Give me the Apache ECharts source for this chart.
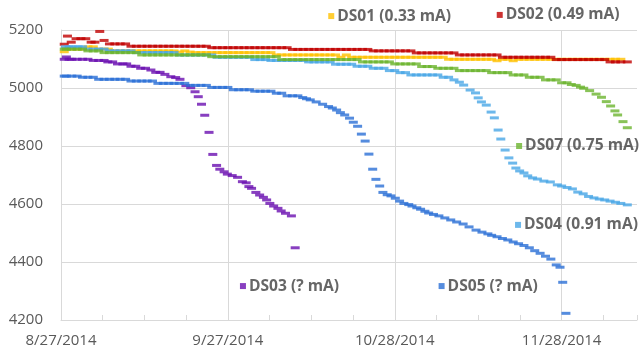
<!DOCTYPE html>
<html><head><meta charset="utf-8">
<script src="https://cdn.jsdelivr.net/npm/echarts@6/dist/echarts.min.js"></script>
<style>html,body{margin:0;padding:0;background:#fff}#c{width:640px;height:360px}</style>
</head><body><div id="c"></div>
<script>
// x values are days since 8/27/2014
const xTickLabels = ['8/27/2014','9/27/2014','10/28/2014','11/28/2014'];
const xTickStep = 31;
const xMax = 107;
const yMin = 4200, yMax = 5200, yStep = 200;

const seriesNames = ['DS01','DS02','DS03','DS04','DS05','DS07'];
const seriesColors = ['#FFC000','#C00000','#6A0FB0','#48A6E6','#2A6FD6','#6CB42E'];

const ds01 = [[0.6,5125],[1,5134],[2,5134],[3,5134],[4,5134],[5,5142],[6,5142],[7,5134],[8,5134],[8.8,5134],
[9,5128],[10,5128],[11,5128],[12,5128],[13,5128],[14,5128],[15,5128],[16,5128],[17,5128],[18,5128],[19,5128],[20,5128],[21,5128],[22,5124],[23,5128],[24,5124],
[25,5122],[26,5122],[27,5122],[28,5122],[29,5122],[30,5122],[31,5122],[32,5122],[33,5122],[34,5122],[35,5122],[36,5122],[37,5122],[38,5122],[39,5122],
[40,5114],[41,5114],[42,5114],[43,5114],[44,5114],[45,5114],[46,5114],[47,5114],[48,5114],[49,5114],[50,5114],[51,5114],[52,5106],[53,5114],[54,5106],
[55,5106],[56,5106],[57,5106],[58,5106],[59,5106],[60,5106],[61,5106],[62,5106],[63,5106],[64,5106],[65,5106],[66,5106],[67,5106],[68,5106],[69,5106],[70,5106],[71,5106],
[72,5099],[73,5099],[74,5099],[75,5099],[76,5099],[77,5099],[78,5099],[79,5099],[80,5099],[81,5094],[82,5099],[83,5099],[84,5094],[85,5099],[86,5099],[87,5099],[88,5099],[89,5099],[90,5099],[91,5099],[92,5099],[93,5099],[94,5099],[95,5099],[96,5099],[97,5099],[98,5099],[99,5099],[100,5099],[101,5099],[102,5099],[103,5099],[104,5099]];

const ds02 = [[0.6,5151],[1.2,5179],[1.9,5158],[2.8,5170],[3.7,5170],[4.6,5170],[5.6,5158],[6.3,5158],[7.2,5195],[8,5164],[9,5152],[10,5152],[11,5152],[12,5152],
[13,5144],[14,5144],[15,5144],[16,5144],[17,5144],[18,5144],[19,5144],[20,5144],[21,5144],[22,5144],[23,5144],[24,5144],[25,5144],[26,5144],[27,5144],
[28,5139],[29,5139],[30,5139],[31,5139],[32,5139],[33,5139],[34,5139],[35,5139],[36,5139],[37,5139],[38,5139],[39,5139],[40,5139],[41,5139],[42,5139],
[43,5133],[44,5133],[45,5133],[46,5133],[47,5133],[48,5133],[49,5133],[50,5133],[51,5133],[52,5133],[53,5133],[54,5133],[55,5133],[56,5133],[57,5133],
[58,5128],[59,5128],[60,5128],[61,5128],[62,5128],[63,5128],[64,5128],[65,5128],
[66,5121],[67,5121],[68,5121],[69,5121],[70,5121],[71,5121],[72,5121],[73,5121],
[74,5114],[75,5114],[76,5114],[77,5114],[78,5114],[79,5114],[80,5114],[81,5114],
[82,5106],[83,5106],[84,5106],[85,5106],[86,5106],[87,5106],[88,5106],[89,5106],[90,5106],[91,5106],
[92,5098],[93,5098],[94,5098],[95,5098],[96,5098],[97,5098],[98,5098],[99,5098],[100,5098],[101,5098],
[102,5090],[103,5090],[104,5090],[105.2,5090]];

const ds03 = [[0.6,5099],[1,5107],[1.5,5099],[2,5099],[3,5099],[4,5099],[5,5099],[6,5095],[7,5095],[8,5095],[8.7,5090],[9.6,5090],[10.5,5083],[11.5,5083],[12.2,5083],[13,5075],[13.9,5075],[14.8,5068],[15.7,5068],[16.7,5062],[17.6,5054],[18.4,5054],[19.3,5047],[20.4,5039],[21.3,5036],[22.1,5030],[23.2,5008],[24.1,5001],[24.9,4987],[25.5,4970],[26.1,4944],[26.7,4906],[27.5,4847],[28.2,4771],[28.9,4733],[29.5,4720],[30.3,4711],[30.9,4703],[31.8,4698],[32.8,4692],[33.7,4677],[34.4,4673],[34.9,4660],[35.4,4654],[36.2,4640],[36.9,4631],[37.6,4623],[38.2,4614],[38.8,4602],[39.5,4593],[40.3,4585],[40.9,4576],[41.7,4568],[42.8,4559],[43.5,4449]];

const ds04 = [[0.8,5142],[1.5,5142],[2.3,5142],[3.2,5142],[4,5142],[5,5134],[6,5134],[7,5134],[8,5134],[9,5128],[10,5128],[11,5128],[12,5128],[13,5128],
[14,5122],[15,5122],[16,5122],[17,5122],[18,5122],[19,5122],[20,5122],[21,5122],
[22,5114],[23,5114],[24,5114],[25,5114],[26,5114],[27,5114],[28,5114],
[29,5106],[30,5106],[31,5106],[32,5106],[33,5106],[34,5106],[35,5106],
[36,5098],[37,5098],[38,5098],[39,5095],[40,5095],[41,5095],[42,5095],[43,5095],[44,5095],[45,5095],
[46,5090],[47,5090],[48,5090],[49,5090],[50,5090],[51,5082],[52,5082],[53,5082],[54,5082],[55,5075],[56,5075],[57,5075],[58,5068],[59,5068],[60,5068],[61,5060],[62,5060],[63,5053],[64,5053],
[65,5045],[66,5045],[67,5045],[68,5045],[69,5045],[70,5045],[71,5037],[72,5037],[73,5028],[74,5020],[74.8,5010],[76,4993],[77,4983],[77.5,4966],[78.1,4952],[79,4941],[79.9,4917],[80.5,4897],[81.2,4855],[81.7,4824],[82.5,4786],[83.2,4759],[83.9,4741],[84.5,4724],[85.2,4714],[86,4707],[86.7,4697],[87.6,4690],[88.5,4686],[89.7,4679],[90.9,4676],[92.2,4666],[93,4662],[94,4657],[95,4652],[96,4641],[97,4635],[98,4626],[99,4621],[100,4617],[101,4614],[102,4610],[103,4606],[104,4602],[105.2,4597]];

const ds05 = [[0.6,5041],[1,5041],[2,5041],[3,5041],[4,5037],[5,5037],[6,5037],[7,5030],[8,5030],[9,5030],[10,5030],[11,5030],[12,5030],[13,5024],[14,5024],[15,5024],[16,5024],[17,5024],[18,5016],[19,5016],[20,5016],[21,5016],[22,5016],[23,5016],[24,5009],[25,5009],[26,5009],[27,5009],[28,5002],[29,5002],[30,5002],[31,5002],[32,4994],[33,4994],[34,4994],[35,4994],[36,4989],[37,4989],[38,4989],[39,4989],[40,4982],[41,4982],[42,4973],[43,4973],[44,4973],[44.9,4967],[45.6,4963],[46.3,4959],[47.4,4952],[48.6,4944],[49.7,4936],[50.4,4931],[51.2,4924],[51.9,4915],[52.7,4907],[53.6,4896],[54.3,4882],[55.1,4868],[55.8,4841],[56.5,4817],[57.2,4772],[57.9,4720],[58.5,4685],[59.2,4662],[59.8,4640],[60.6,4632],[61.3,4628],[62.1,4620],[62.9,4610],[63.7,4602],[64.6,4598],[65.2,4593],[66.1,4587],[66.8,4582],[67.6,4575],[68.3,4569],[69.2,4564],[70.2,4559],[71.3,4552],[72.4,4545],[73.5,4538],[74.7,4531],[75.8,4521],[77.1,4510],[78.2,4503],[79.3,4497],[80,4492],[81,4487],[82,4481],[83,4476],[84,4469],[85,4463],[86,4457],[87,4449],[88,4439],[89,4430],[90,4420],[91,4410],[92,4390],[92.7,4382],[93.2,4330],[93.8,4223]];

const ds07 = [[0.6,5134],[1,5134],[2,5134],[3,5134],[4,5134],[5,5128],[6,5128],[7,5128],
[8,5122],[9,5122],[10,5122],[11,5122],[12,5122],[13,5122],[14,5122],
[15,5114],[16,5114],[17,5114],[18,5114],[19,5114],[20,5114],[21,5114],[22,5114],[23,5114],[24,5114],[25,5114],[26,5114],[27,5114],
[28,5108],[29,5108],[30,5108],[31,5108],[32,5108],[33,5108],[34,5108],[35,5108],[36,5108],[37,5108],[38,5108],[39,5108],[40,5108],
[41,5098],[42,5098],[43,5098],[44,5098],[45,5098],[46,5098],[47,5098],[48,5098],[49,5098],[50,5098],[51,5098],[52,5098],[53,5098],[54,5098],[55,5098],
[56,5090],[57,5090],[58,5090],[59,5090],[60,5090],[61,5090],[62,5083],[63,5083],[64,5083],[65,5083],[66,5083],
[67,5074],[68,5074],[69,5074],[70,5068],[71,5068],[72,5068],[73,5068],[74,5060],[75,5060],[76,5060],[77,5060],[78,5060],[79,5060],
[80,5053],[81,5053],[82,5053],[83,5053],[84,5045],[85,5045],[86,5045],[87,5037],[88,5037],[89,5037],[90,5028],[91,5028],[92,5028],[93,5018],[94,5018],
[94.8,5012],[95.7,5009],[96.5,5003],[97.1,4999],[98.2,4991],[99.4,4979],[100.4,4968],[101.3,4953],[102.1,4938],[102.9,4921],[103.4,4907],[104.4,4884],[105.2,4863]];

const seriesData = [ds01, ds02, ds03, ds04, ds05, ds07];

// data labels (legend-key style), anchored in data coordinates
const labelTexts = ['DS01 (0.33 mA)','DS02 (0.49 mA)','DS03 (? mA)','DS04 (0.91 mA)','DS05 (? mA)','DS07 (0.75 mA)'];
const labelPos = [[50.2,5248],[81.5,5252],[33.8,4317],[84.9,4528],[70.7,4317],[85.1,4800]];

const FONT = '"Open Sans", "Noto Sans", sans-serif';
const grey = '#D9D9D9';

function fmtX(v) {
  const i = v / xTickStep;
  return (Number.isInteger(i) && xTickLabels[i]) ? xTickLabels[i] : '';
}

const series = [];
seriesData.forEach((d, i) => {
  series.push({
    name: seriesNames[i], type: 'scatter', data: d,
    symbol: 'rect', symbolSize: [9, 3],
    itemStyle: { color: seriesColors[i] },
    silent: true, z: 2 + i * 0.01
  });
});
labelPos.forEach((p, i) => {
  series.push({
    name: seriesNames[i] + ' label', type: 'scatter', data: [p],
    symbol: 'rect', symbolSize: 6, clip: false, silent: true, z: 5,
    itemStyle: { color: seriesColors[i] },
    label: {
      show: true, position: 'right', distance: 3,
      formatter: labelTexts[i],
      fontFamily: FONT, fontWeight: 'bold', fontSize: 15.6, color: '#404040'
    }
  });
});

const chart = echarts.init(document.getElementById('c'), null, { renderer: 'canvas' });
chart.setOption({
  animation: false,
  backgroundColor: '#fff',
  grid: { left: 61, right: 3, top: 30, bottom: 40 },
  xAxis: {
    type: 'value', min: 0, max: xMax, interval: xTickStep,
    axisLine: { show: true, lineStyle: { color: grey, width: 1 } },
    axisTick: { show: true, inside: true, length: 5, lineStyle: { color: grey } },
    minorTick: { show: true, splitNumber: 4, length: 5, lineStyle: { color: grey } },
    splitLine: { show: true, showMinLine: false, showMaxLine: false, lineStyle: { color: grey, width: 1 } },
    axisLabel: { formatter: fmtX, color: '#595959', fontSize: 15, fontFamily: FONT, margin: 13, showMaxLabel: false }
  },
  yAxis: {
    type: 'value', min: yMin, max: yMax, interval: yStep,
    axisLine: { show: true, lineStyle: { color: grey, width: 1 } },
    axisTick: { show: false },
    splitLine: { show: true, lineStyle: { color: grey, width: 1 } },
    axisLabel: { formatter: v => String(v), color: '#595959', fontSize: 15, fontFamily: FONT, margin: 18 }
  },
  series: series
});
</script></body></html>
